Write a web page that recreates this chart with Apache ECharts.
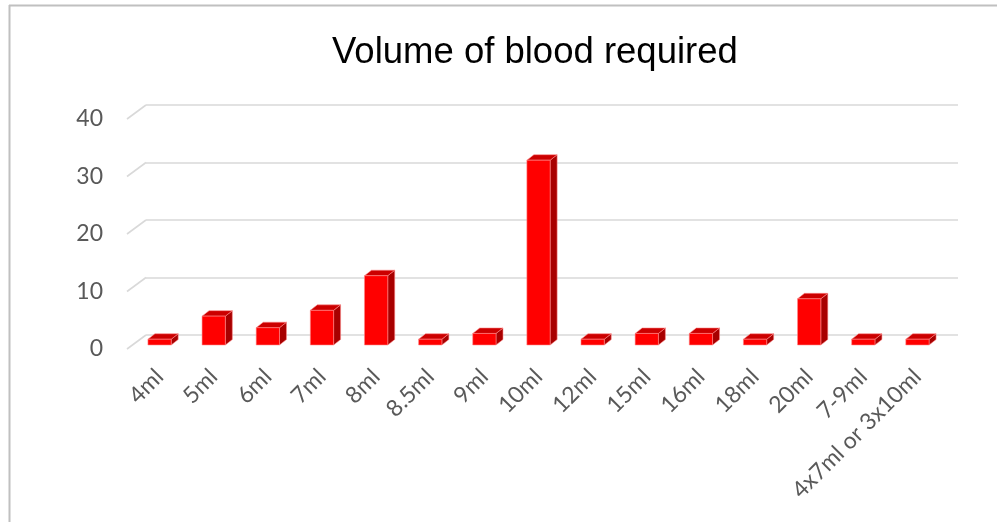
<!DOCTYPE html>
<html>
<head>
<meta charset="utf-8">
<title>Volume of blood required</title>
<script src="https://cdn.jsdelivr.net/npm/echarts@6/dist/echarts.min.js"></script>
<style>
  html, body { margin: 0; padding: 0; background: #ffffff; }
  #chart { width: 997px; height: 522px; }
</style>
</head>
<body>
<div id="chart"></div>
<script>
// Categories (required blood volume) and number of entries for each
const categories = ['4ml', '5ml', '6ml', '7ml', '8ml', '8.5ml', '9ml', '10ml', '12ml',
                    '15ml', '16ml', '18ml', '20ml', '7-9ml', '4x7ml or 3x10ml'];
const counts = [1, 5, 3, 6, 12, 1, 2, 32, 1, 2, 2, 1, 8, 1, 1];

// Value axis range
const yMin = 0;
const yMax = 40;
const yStep = 10;

// Pseudo-3D geometry: offset of a bar's back face, and of the floor's front edge
const BAR_DX = 7, BAR_DY = 5.5;
const FLOOR_DX = 19, FLOOR_DY = 14;
const BAR_WIDTH_RATIO = 0.43;

const LABEL_FONT = 'Lato, "Open Sans", sans-serif';
const LABEL_COLOR = '#595959';

const tickValues = [];
for (let v = yMin; v <= yMax; v += yStep) tickValues.push(v);

const chart = echarts.init(document.getElementById('chart'), null, { renderer: 'canvas' });

const plotWidth = 812;

const option = {
  animation: false,
  backgroundColor: '#ffffff',
  title: {
    text: 'Volume of blood required',
    left: 327,
    top: 29,
    textStyle: {
      fontFamily: '"Liberation Sans", Arial, sans-serif',
      fontSize: 36.5,
      fontWeight: 'normal',
      color: '#000000'
    }
  },
  graphic: [
    // outer frame (top and left edges)
    { type: 'line', shape: { x1: 9, y1: 5.5, x2: 997, y2: 5.5 },
      style: { stroke: '#c0c0c0', lineWidth: 2 }, silent: true },
    { type: 'line', shape: { x1: 9.5, y1: 5, x2: 9.5, y2: 522 },
      style: { stroke: '#c0c0c0', lineWidth: 2 }, silent: true }
  ],
  grid: [
    // back wall (gridlines)
    { left: 146, top: 105, width: plotWidth, height: 230 },
    // bar front plane
    { left: 132.5, top: 114, width: plotWidth, height: 231 },
    // floor front edge (value labels)
    { left: 127, top: 119, width: plotWidth, height: 230 }
  ],
  xAxis: [
    { type: 'category', gridIndex: 0, data: categories,
      axisLine: { show: false }, axisTick: { show: false }, axisLabel: { show: false } },
    { type: 'category', gridIndex: 1, data: categories,
      axisLine: { show: false }, axisTick: { show: false },
      axisLabel: {
        interval: 0, rotate: 45, margin: 28,
        fontFamily: LABEL_FONT, fontSize: 23, color: LABEL_COLOR
      } },
    { type: 'category', gridIndex: 2, data: categories,
      axisLine: { show: false }, axisTick: { show: false }, axisLabel: { show: false } }
  ],
  yAxis: [
    { type: 'value', gridIndex: 0, min: yMin, max: yMax, interval: yStep,
      axisLine: { show: false }, axisTick: { show: false }, axisLabel: { show: false },
      splitLine: { show: true, lineStyle: { color: '#d9d9d9', width: 1.6 } } },
    { type: 'value', gridIndex: 1, min: yMin, max: yMax, interval: yStep,
      axisLine: { show: false }, axisTick: { show: false }, axisLabel: { show: false },
      splitLine: { show: false } },
    { type: 'value', gridIndex: 2, min: yMin, max: yMax, interval: yStep,
      axisLine: { show: false }, axisTick: { show: false },
      axisLabel: { margin: 24, fontFamily: LABEL_FONT, fontSize: 23, color: LABEL_COLOR },
      splitLine: { show: false } }
  ],
  series: [
    {
      // slanted floor lines joining each wall gridline to the front edge
      type: 'custom',
      xAxisIndex: 0,
      yAxisIndex: 0,
      silent: true,
      data: tickValues.map(v => [0, v]),
      renderItem: function (params, api) {
        const cs = params.coordSys;
        const y = api.coord([0, api.value(1)])[1];
        return {
          type: 'line',
          shape: { x1: cs.x, y1: y, x2: cs.x - FLOOR_DX, y2: y + FLOOR_DY },
          style: { stroke: '#d9d9d9', lineWidth: 1.6 }
        };
      }
    },
    {
      type: 'custom',
      name: 'Volume of blood required',
      xAxisIndex: 1,
      yAxisIndex: 1,
      data: counts.map((v, i) => [i, v]),
      renderItem: function (params, api) {
        const idx = api.value(0);
        const val = api.value(1);
        const base = api.coord([idx, 0]);
        const top = api.coord([idx, val]);
        const w = api.size([1, 0])[0] * BAR_WIDTH_RATIO;
        const x0 = base[0] - w / 2;
        const x1 = x0 + w;
        const yT = top[1];
        const yB = base[1];
        const edge = 'rgba(255,140,140,0.7)';
        return {
          type: 'group',
          children: [
            { type: 'polygon',
              shape: { points: [[x1, yT], [x1 + BAR_DX, yT - BAR_DY], [x1 + BAR_DX, yB - BAR_DY], [x1, yB]] },
              style: { fill: '#a80000', stroke: edge, lineWidth: 0.8 } },
            { type: 'polygon',
              shape: { points: [[x0, yT], [x0 + BAR_DX, yT - BAR_DY], [x1 + BAR_DX, yT - BAR_DY], [x1, yT]] },
              style: { fill: '#cc0000', stroke: edge, lineWidth: 0.8 } },
            { type: 'rect',
              shape: { x: x0, y: yT, width: w, height: yB - yT },
              style: { fill: '#ff0000', stroke: edge, lineWidth: 0.8 } }
          ]
        };
      }
    }
  ]
};

chart.setOption(option);
</script>
</body>
</html>
